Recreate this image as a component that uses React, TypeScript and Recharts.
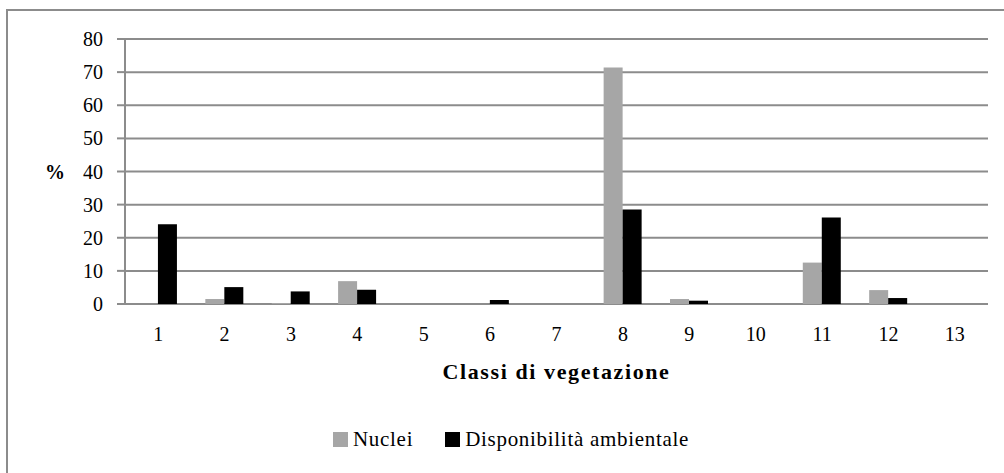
import { BarChart, Bar, XAxis, YAxis, CartesianGrid, Legend } from "recharts";

const CLASSES = ["1", "2", "3", "4", "5", "6", "7", "8", "9", "10", "11", "12", "13"];
const NUCLEI = [0, 1.5, 0.3, 6.9, 0, 0, 0, 71.4, 1.5, 0, 12.5, 4.2, 0];
const DISPONIBILITA = [24.1, 5.1, 3.8, 4.3, 0, 1.2, 0, 28.5, 1.0, 0, 26.1, 1.8, 0];
const Y_TICKS = [0, 10, 20, 30, 40, 50, 60, 70, 80];
const BOUNDARIES = [0, 1, 2, 3, 4, 5, 6, 7, 8, 9, 10, 11, 12, 13];
const SERIES_ORDER = ["nuclei", "disp"];

const GRID = "#8c8c8c";
const FONT = "Liberation Serif";

const data = CLASSES.map((cls, i) => ({
  cls,
  nuclei: NUCLEI[i],
  disp: DISPONIBILITA[i],
}));

// recharts sorts legend items by name, keep the series order instead
function LegendContent({ payload }: any) {
  const items = SERIES_ORDER.map((k) => (payload || []).find((p: any) => p.dataKey === k)).filter(Boolean);
  return (
    <div style={{ display: "flex", alignItems: "center", fontFamily: FONT, fontSize: 21, letterSpacing: 0.7, color: "#000" }}>
      {items.map((p: any, i: number) => (
        <div key={p.value} style={{ display: "flex", alignItems: "center", marginRight: i === 0 ? 32 : 0 }}>
          <span style={{ display: "inline-block", width: 15, height: 15, background: p.color, marginRight: 5 }} />
          <span>{p.value}</span>
        </div>
      ))}
    </div>
  );
}

export default function App() {
  return (
    <div style={{ position: "fixed", left: 0, top: 0, width: 1004, height: 473, overflow: "hidden", background: "#fff" }}>
      <div
        style={{
          position: "absolute",
          left: 6,
          top: 9,
          width: 1100,
          height: 600,
          border: `2px solid ${GRID}`,
        }}
      />
      <div style={{ position: "absolute", left: 0, top: 0 }}>
        <BarChart
          width={1004}
          height={473}
          data={data}
          margin={{ top: 39, right: 16, left: 0, bottom: 65 }}
          barCategoryGap="21%"
          barGap={0}
        >
          <CartesianGrid vertical={false} stroke={GRID} strokeWidth={2} xAxisId="cat" />
          <XAxis
            xAxisId="grid"
            type="number"
            domain={[0, 13]}
            ticks={BOUNDARIES}
            interval={0}
            height={0}
            tickSize={8}
            tickFormatter={() => ""}
            axisLine={{ stroke: GRID, strokeWidth: 2 }}
            tickLine={{ stroke: GRID, strokeWidth: 2 }}
          />
          <XAxis
            xAxisId="cat"
            dataKey="cls"
            axisLine={false}
            tickLine={false}
            tickSize={0}
            tickMargin={23}
            height={80}
            interval={0}
            tick={{ fill: "#000", fontSize: 20, fontFamily: FONT }}
            label={{
              value: "Classi di vegetazione",
              position: "insideBottom",
              offset: 5,
              fill: "#000",
              fontSize: 22,
              fontWeight: "bold",
              fontFamily: FONT,
              letterSpacing: 1.6,
            }}
          />
          <YAxis
            domain={[0, 80]}
            ticks={Y_TICKS}
            interval={0}
            width={125}
            tickSize={8}
            tickMargin={14}
            axisLine={{ stroke: GRID, strokeWidth: 2 }}
            tickLine={{ stroke: GRID, strokeWidth: 2 }}
            tick={{ fill: "#000", fontSize: 20, fontFamily: FONT }}
            label={{
              value: "%",
              position: "insideLeft",
              offset: 45,
              fill: "#000",
              fontSize: 20,
              fontWeight: "bold",
              fontFamily: FONT,
            }}
          />
          <Legend
            verticalAlign="bottom"
            content={<LegendContent />}
            wrapperStyle={{ left: 333, width: "auto", top: 427, bottom: "auto", height: 24 }}
          />
          <Bar dataKey="nuclei" name="Nuclei" xAxisId="cat" fill="#a6a6a6" isAnimationActive={false} />
          <Bar dataKey="disp" name="Disponibilità ambientale" xAxisId="cat" fill="#000" isAnimationActive={false} />
        </BarChart>
      </div>
    </div>
  );
}
